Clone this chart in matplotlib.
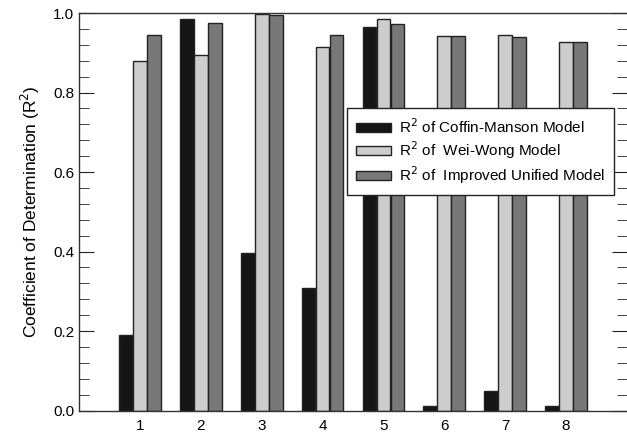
import numpy as np
import matplotlib
matplotlib.use('Agg')
import matplotlib.pyplot as plt
from matplotlib.ticker import MultipleLocator

plt.rcParams['font.family'] = ['Liberation Sans', 'DejaVu Sans']

groups = [1, 2, 3, 4, 5, 6, 7, 8]
coffin_manson = [0.189, 0.984, 0.396, 0.309, 0.966, 0.012, 0.050, 0.012]
wei_wong = [0.879, 0.894, 0.997, 0.914, 0.984, 0.941, 0.945, 0.927]
improved_unified = [0.945, 0.974, 0.995, 0.945, 0.972, 0.942, 0.940, 0.926]

labels = ['R$^2$ of Coffin-Manson Model',
          'R$^2$ of  Wei-Wong Model',
          'R$^2$ of  Improved Unified Model']

fig = plt.figure(figsize=(6.27, 4.34), dpi=100)
ax = fig.add_axes([0.126, 0.054, 0.874, 0.916])

x = np.array(groups)
w = 0.225
ax.bar(x - 0.23, coffin_manson, w, color='#151515', edgecolor='#222222', linewidth=1.0, label=labels[0])
ax.bar(x, wei_wong, w, color='#cdcdcd', edgecolor='#222222', linewidth=1.0, label=labels[1])
ax.bar(x + 0.23, improved_unified, w, color='#787878', edgecolor='#222222', linewidth=1.0, label=labels[2])

ax.set_xlim(0, 9)
ax.set_ylim(0, 1.0)
ax.set_xticks(groups)
ax.yaxis.set_major_locator(MultipleLocator(0.2))
ax.yaxis.set_minor_locator(MultipleLocator(0.04))
ax.yaxis.set_major_formatter(matplotlib.ticker.FormatStrFormatter('%.1f'))
ax.tick_params(axis='x', length=0, labelsize=11, pad=6)
ax.tick_params(axis='y', which='major', direction='in', length=11, labelsize=11, right=True, color='#222222')
ax.tick_params(axis='y', which='minor', direction='in', length=7, right=True, color='#222222')
for s in ax.spines.values():
    s.set_linewidth(1.0)
    s.set_color('#333333')
ax.spines['right'].set_visible(False)

ax.set_ylabel('Coefficient of Determination (R$^2$)', fontsize=12.5, labelpad=8)

leg = ax.legend(loc='upper left', bbox_to_anchor=(0.489, 0.761), fontsize=11,
                frameon=True, fancybox=False, edgecolor='#222222', framealpha=1,
                handlelength=2.3, handleheight=0.6, handletextpad=0.5,
                borderpad=0.6, labelspacing=0.22, borderaxespad=0)
leg.get_frame().set_linewidth(1.0)

fig.savefig('out.png', dpi=100)
